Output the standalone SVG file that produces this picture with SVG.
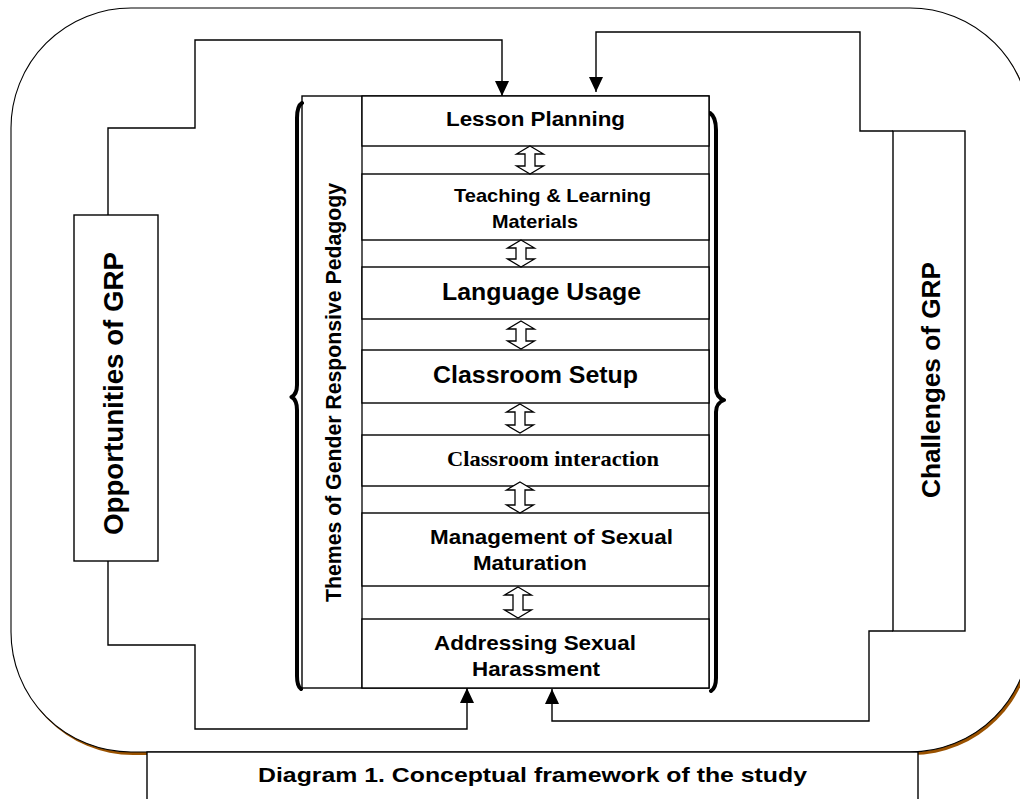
<svg xmlns="http://www.w3.org/2000/svg" width="1020" height="799" viewBox="0 0 1020 799">
<style>
.box{fill:#fff;stroke:#000;stroke-width:1.4}
.conn{fill:none;stroke:#000;stroke-width:1.4}
.dbl{fill:#fff;stroke:#000;stroke-width:1.3}
.brace{fill:none;stroke:#000;stroke-width:4;stroke-linecap:round;stroke-linejoin:round}
.t{font-family:"Liberation Sans",Arial,sans-serif;font-weight:bold;fill:#000}
.ts{font-family:"Liberation Serif","Times New Roman",serif;font-weight:bold;fill:#000}
</style>
<defs>
<marker id="ah" viewBox="0 0 15 14" refX="15" refY="7" markerWidth="15" markerHeight="14" markerUnits="userSpaceOnUse" orient="auto">
<path d="M0,0 L15,7 L0,14 Z" fill="#000"/>
</marker>
</defs>
<rect width="1020" height="799" fill="#fff"/>
<g id="frame">
<rect x="13" y="11" width="1019" height="744" rx="120" ry="120" fill="#9a5200"/>
<rect x="11" y="8" width="1019" height="744" rx="120" ry="120" fill="#fff" stroke="#000" stroke-width="1.1"/>
</g>
<g id="connectors">
<path class="conn" d="M108,215 V128 H195 V40 H502 V96" marker-end="url(#ah)"/>
<path class="conn" d="M108,561 V645 H195 V729 H467 V688" marker-end="url(#ah)"/>
<path class="conn" d="M893,131 H860 V32 H596 V92" marker-end="url(#ah)"/>
<path class="conn" d="M893,631 H869 V721 H552 V689" marker-end="url(#ah)"/>
</g>
<g id="opportunities">
<rect class="box" x="74" y="215" width="84" height="346"/>
<text class="t" font-size="27" transform="translate(123,535) rotate(-90)" textLength="283" lengthAdjust="spacingAndGlyphs">Opportunities of GRP</text>
</g>
<g id="challenges">
<rect class="box" x="893" y="131" width="72" height="500"/>
<text class="t" font-size="26" transform="translate(940,498) rotate(-90)" textLength="236" lengthAdjust="spacingAndGlyphs">Challenges of GRP</text>
</g>
<g id="themes">
<rect class="box" x="302" y="96" width="407" height="592"/>
<line x1="362" y1="96" x2="362" y2="688" stroke="#000" stroke-width="1.3"/>
<text class="t" font-size="22" transform="translate(341,602) rotate(-90)" textLength="419" lengthAdjust="spacingAndGlyphs">Themes of Gender Responsive Pedagogy</text>
<path class="brace" d="M302,103 Q297,106 297,118 L297,385 Q297,394 291.5,397 Q297,400 297,410 L297,676 Q297,686 301,689"/>
<path class="brace" d="M710,113 Q716,117 716,130 L716,388 Q716,397 724,400 Q716,403 716,412 L716,678 Q716,688 711,691"/>
</g>
<g id="lesson-planning">
<rect class="box" x="362" y="96" width="347" height="50"/>
<text class="t" font-size="20" x="446" y="126" textLength="179" lengthAdjust="spacingAndGlyphs">Lesson Planning</text>
</g>
<g id="tlm">
<rect class="box" x="362" y="174" width="347" height="66"/>
<text class="t" font-size="19" x="454" y="201.5" textLength="197" lengthAdjust="spacingAndGlyphs">Teaching &amp; Learning</text>
<text class="t" font-size="19" x="492" y="228" textLength="86" lengthAdjust="spacingAndGlyphs">Materials</text>
</g>
<g id="language-usage">
<rect class="box" x="362" y="267" width="347" height="52"/>
<text class="t" font-size="23" x="442" y="299.5" textLength="199" lengthAdjust="spacingAndGlyphs">Language Usage</text>
</g>
<g id="classroom-setup">
<rect class="box" x="362" y="350" width="347" height="53"/>
<text class="t" font-size="23" x="433" y="382.5" textLength="205" lengthAdjust="spacingAndGlyphs">Classroom Setup</text>
</g>
<g id="classroom-interaction">
<rect class="box" x="362" y="435" width="347" height="51"/>
<text class="ts" font-size="22" x="447" y="466" textLength="212" lengthAdjust="spacingAndGlyphs">Classroom interaction</text>
</g>
<g id="sexual-maturation">
<rect class="box" x="362" y="513" width="347" height="73"/>
<text class="t" font-size="21" x="430" y="544" textLength="243" lengthAdjust="spacingAndGlyphs">Management of Sexual</text>
<text class="t" font-size="21" x="473" y="570" textLength="114" lengthAdjust="spacingAndGlyphs">Maturation</text>
</g>
<g id="sexual-harassment">
<rect class="box" x="362" y="619" width="347" height="69"/>
<text class="t" font-size="21" x="434" y="650" textLength="202" lengthAdjust="spacingAndGlyphs">Addressing Sexual</text>
<text class="t" font-size="21" x="472" y="675.5" textLength="128" lengthAdjust="spacingAndGlyphs">Harassment</text>
</g>
<g id="double-arrows">
<path class="dbl" d="M530,146 L543.5,154 L535,154 L535,166 L543.5,166 L530,174 L516.5,166 L525,166 L525,154 L516.5,154 Z"/>
<path class="dbl" d="M521,240 L534.5,248 L526,248 L526,259 L534.5,259 L521,267 L507.5,259 L516,259 L516,248 L507.5,248 Z"/>
<path class="dbl" d="M521,321 L534.5,329 L526,329 L526,341 L534.5,341 L521,349 L507.5,341 L516,341 L516,329 L507.5,329 Z"/>
<path class="dbl" d="M520,404 L533.5,412 L525,412 L525,425 L533.5,425 L520,433 L506.5,425 L515,425 L515,412 L506.5,412 Z"/>
<path class="dbl" d="M520,482 L533.5,490 L525,490 L525,505 L533.5,505 L520,513 L506.5,505 L515,505 L515,490 L506.5,490 Z"/>
<path class="dbl" d="M518,587 L531.5,595 L523,595 L523,610 L531.5,610 L518,618 L504.5,610 L513,610 L513,595 L504.5,595 Z"/>
</g>
<g id="caption">
<rect class="box" x="147" y="752" width="771" height="60"/>
<text class="t" font-size="21" x="258" y="782" textLength="549" lengthAdjust="spacingAndGlyphs">Diagram 1. Conceptual framework of the study</text>
</g>
</svg>
